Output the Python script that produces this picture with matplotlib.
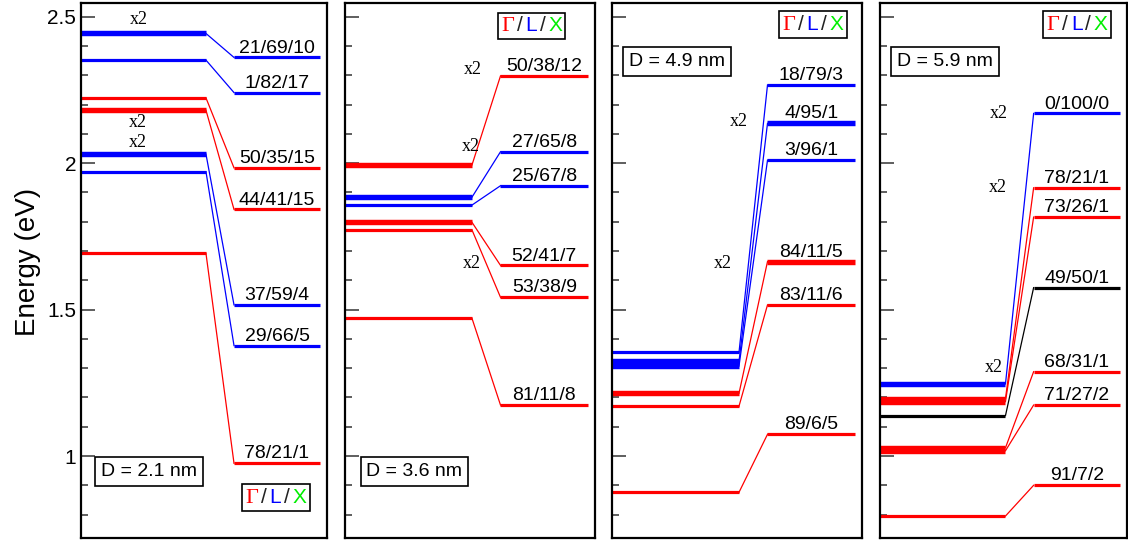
import matplotlib
matplotlib.use("Agg")
import matplotlib.pyplot as plt
from matplotlib.offsetbox import TextArea, HPacker, AnchoredOffsetbox

plt.rcParams['font.family'] = ['Liberation Sans', 'DejaVu Sans']

# ---------------- data ----------------
D_values = [2.1, 3.6, 4.9, 5.9]

# Panel 1 (D = 2.1 nm)
left_E1 = [2.443, 2.352, 2.223, 2.181, 2.031, 1.971, 1.692]
right_E1 = [2.361, 2.241, 1.984, 1.842, 1.516, 1.377, 0.975]
labels1 = ['21/69/10', '1/82/17', '50/35/15', '44/41/15', '37/59/4', '29/66/5', '78/21/1']
kind1 = ['L', 'L', 'G', 'G', 'L', 'L', 'G']
ldeg1 = [2, 1, 1, 2, 2, 1, 1]
rdeg1 = [1, 1, 1, 1, 1, 1, 1]

# Panel 2 (D = 3.6 nm)
left_E2 = [1.994, 1.884, 1.857, 1.798, 1.772, 1.470]
right_E2 = [2.298, 2.039, 1.923, 1.651, 1.542, 1.174]
labels2 = ['50/38/12', '27/65/8', '25/67/8', '52/41/7', '53/38/9', '81/11/8']
kind2 = ['G', 'L', 'L', 'G', 'G', 'G']
ldeg2 = [2, 2, 1, 2, 1, 1]
rdeg2 = [1, 1, 1, 1, 1, 1]

# Panel 3 (D = 4.9 nm)
left_E3 = [1.354, 1.323, 1.307, 1.214, 1.170, 0.876]
right_E3 = [2.267, 2.136, 2.010, 1.664, 1.516, 1.074]
labels3 = ['18/79/3', '4/95/1', '3/96/1', '84/11/5', '83/11/6', '89/6/5']
kind3 = ['L', 'L', 'L', 'G', 'G', 'G']
ldeg3 = [1, 2, 2, 2, 1, 1]
rdeg3 = [1, 2, 1, 2, 1, 1]

# Panel 4 (D = 5.9 nm)
left_E4 = [1.246, 1.196, 1.186, 1.138, 1.028, 1.018, 0.795]
right_E4 = [2.170, 1.916, 1.816, 1.575, 1.288, 1.174, 0.900]
labels4 = ['0/100/0', '78/21/1', '73/26/1', '49/50/1', '68/31/1', '71/27/2', '91/7/2']
kind4 = ['L', 'G', 'G', 'M', 'G', 'G', 'G']
ldeg4 = [2, 2, 2, 1, 2, 2, 1]
rdeg4 = [1, 1, 1, 1, 1, 1, 1]

# "x2" degeneracy marks (x in axes fraction, energy)
x2_marks = [
    [(0.236, 2.489), (0.232, 2.139), (0.232, 2.071)],
    [(0.512, 2.321), (0.504, 2.058), (0.508, 1.658)],
    [(0.508, 2.144), (0.444, 1.659)],
    [(0.482, 2.171), (0.478, 1.917), (0.460, 1.302)],
]

panels = [
    (left_E1, right_E1, labels1, kind1, ldeg1, rdeg1),
    (left_E2, right_E2, labels2, kind2, ldeg2, rdeg2),
    (left_E3, right_E3, labels3, kind3, ldeg3, rdeg3),
    (left_E4, right_E4, labels4, kind4, ldeg4, rdeg4),
]

# ---------------- style ----------------
colors = {'G': '#ff0000', 'L': '#0000ff', 'M': '#000000'}
W, H = 1128, 541
ax_px = [(81, 246), (345, 250), (612, 250), (880, 247)]
top_px, bot_px = 3, 538
dbox_pos = [(0.276, 0.124), (0.278, 0.124), (0.260, 0.891), (0.263, 0.891)]
glx_pos = [(0.791, 0.075), (0.746, 0.957), (0.804, 0.959), (0.798, 0.959)]
xL, xR0, xR1 = 0.508, 0.622, 0.972


def lw_of(deg):
    return 2.3 + 1.6 * (deg - 1)


fig = plt.figure(figsize=(W / 100, H / 100), dpi=100)

for p, (lE, rE, labs, kinds, ld, rd) in enumerate(panels):
    x0, w = ax_px[p]
    ax = fig.add_axes([x0 / W, 1 - bot_px / H, w / W, (bot_px - top_px) / H])
    ax.set_xlim(0, 1)
    ax.set_ylim(0.72, 2.547)
    for i in range(len(lE)):
        c = colors[kinds[i]]
        ax.plot([0, xL], [lE[i], lE[i]], color=c, lw=lw_of(ld[i]),
                solid_capstyle='butt')
        ax.plot([xL, xR0], [lE[i], rE[i]], color=c, lw=0.9)
        ax.plot([xR0, xR1], [rE[i], rE[i]], color=c, lw=lw_of(rd[i]),
                solid_capstyle='butt')
        ax.annotate(labs[i], xy=((xR0 + xR1) / 2, rE[i]), xytext=(0, 3.5),
                    textcoords='offset points', ha='center', va='baseline',
                    fontsize=14, color='black')
    for (xm, em) in x2_marks[p]:
        ax.text(xm, em, 'x2', ha='center', va='center', fontsize=13,
                family=['Liberation Serif', 'DejaVu Serif'])

    # D box
    bx, by = dbox_pos[p]
    ax.text(bx, by, 'D = %.1f nm' % D_values[p], transform=ax.transAxes,
            ha='center', va='center', fontsize=14,
            bbox=dict(boxstyle='square,pad=0.3', fc='white', ec='black', lw=1.2))

    # Γ/L/X box
    parts = [TextArea('Γ', textprops=dict(color='#ff0000', fontsize=16,
                                          family=['Liberation Serif', 'DejaVu Serif'])),
             TextArea('/', textprops=dict(color='#222222', fontsize=15)),
             TextArea('L', textprops=dict(color='#0000ff', fontsize=15)),
             TextArea('/', textprops=dict(color='#222222', fontsize=15)),
             TextArea('X', textprops=dict(color='#00ee00', fontsize=15))]
    pack = HPacker(children=parts, align='baseline', pad=0, sep=2)
    gx, gy = glx_pos[p]
    ab = AnchoredOffsetbox(loc='center', child=pack, pad=0.25, borderpad=0,
                           frameon=True, bbox_to_anchor=(gx, gy),
                           bbox_transform=ax.transAxes)
    ab.patch.set_edgecolor('black')
    ab.patch.set_linewidth(1.2)
    ab.patch.set_boxstyle('square', pad=0)
    ax.add_artist(ab)

    ax.set_xticks([])
    ax.set_yticks([1.0, 1.5, 2.0, 2.5])
    ax.set_yticks([0.8, 0.9, 1.1, 1.2, 1.3, 1.4, 1.6, 1.7, 1.8, 1.9,
                   2.1, 2.2, 2.3, 2.4], minor=True)
    ax.tick_params(axis='y', which='major', direction='in', length=10,
                   width=1.1, color='#333333', labelsize=15)
    ax.tick_params(axis='y', which='minor', direction='in', length=5,
                   width=1.1, color='#333333')
    ax.set_yticklabels(['1', '1.5', '2', '2.5'])
    if p > 0:
        ax.tick_params(axis='y', labelleft=False)
    for s in ax.spines.values():
        s.set_linewidth(1.6)

fig.text(28 / W, 1 - 262 / H, 'Energy (eV)', rotation=90, fontsize=20,
         ha='center', va='center')

fig.savefig('out.png', dpi=100)
